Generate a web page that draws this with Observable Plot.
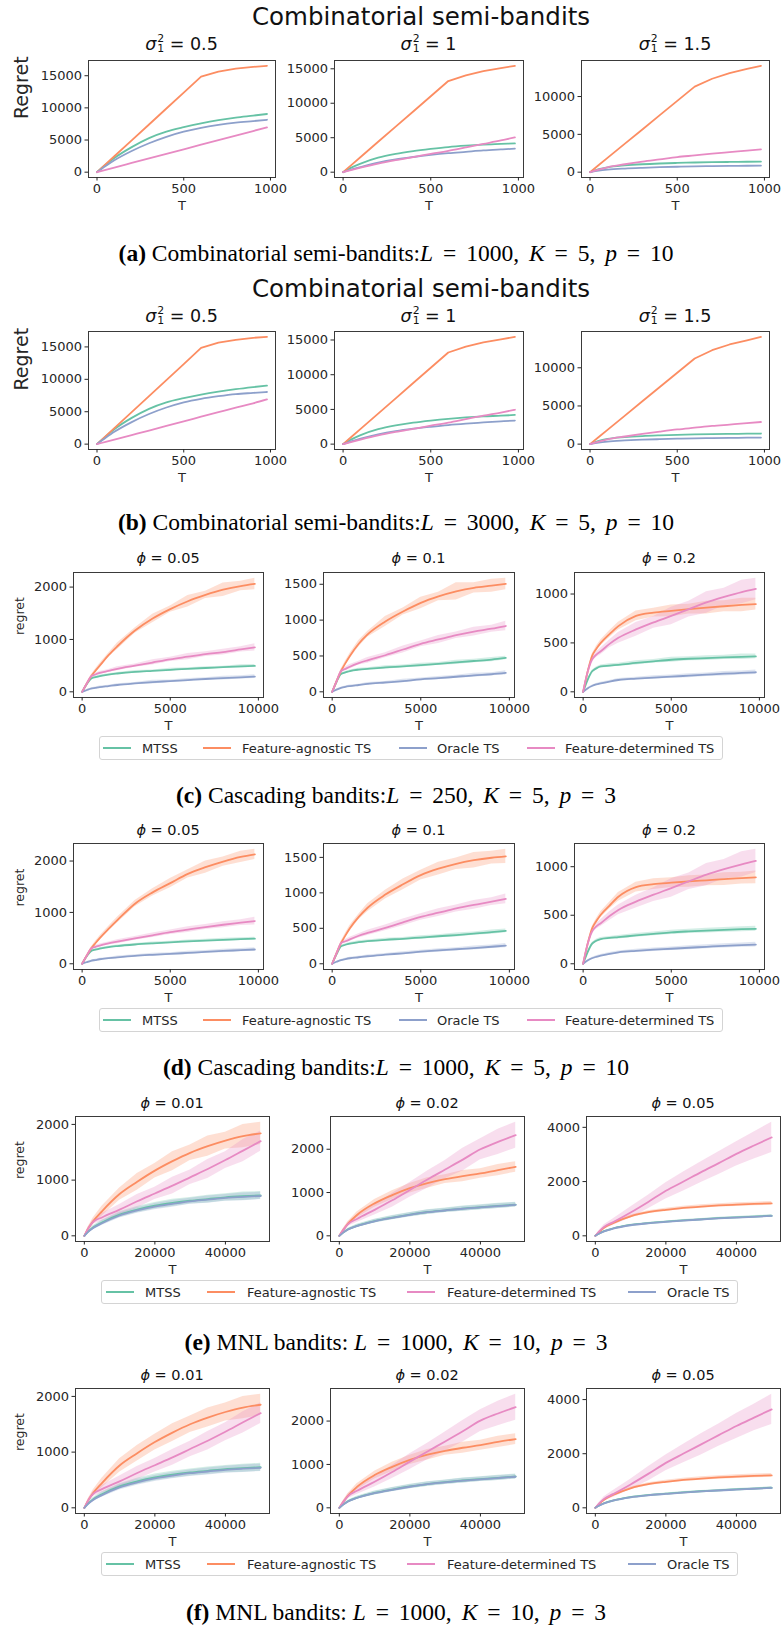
<!DOCTYPE html>
<html><head><meta charset="utf-8">
<script src="https://cdn.jsdelivr.net/npm/d3@7"></script>
<script src="https://cdn.jsdelivr.net/npm/@observablehq/plot@0.6"></script>
<style>
body{margin:0;background:#fff;}
#page{position:relative;width:782px;height:1627px;overflow:hidden;font-family:"DejaVu Sans";color:#262626;background:#fff;}
.abs{position:absolute;white-space:nowrap;}
.ctr{transform:translate(-50%,-50%);}
.cap{font-family:"Liberation Serif";font-size:23.5px;color:#000;}
.cap i{font-style:italic;}
.ss{display:inline-flex;flex-direction:column;vertical-align:middle;font-size:0.62em;line-height:0.95;margin-left:1px;position:relative;top:-1px;}
.legend{position:absolute;border:1px solid #d4d4d4;border-radius:3px;box-sizing:border-box;background:#fff;}
.lline{position:absolute;height:2px;}
.ltext{position:absolute;font-size:13px;color:#262626;white-space:nowrap;transform:translateY(-50%);}
</style></head>
<body><div id="page"></div>
<script>
// ---------------- DATA ----------------
const COL = {mtss: "#66c2a5", agn: "#fc8d62", orc: "#8da0cb", det: "#e78ac3"};
const NAMES = {mtss: "MTSS", agn: "Feature-agnostic TS", orc: "Oracle TS", det: "Feature-determined TS"};

// Combinatorial semi-bandits
const T_comb = [0, 50, 100, 200, 300, 400, 500, 600, 700, 800, 900, 980];
const xTicks_comb = [0, 500, 1000];
const yTicks_comb12 = [0, 5000, 10000, 15000];
const yTicks_comb3 = [0, 5000, 10000];

const a1_mtss = [0, 1150, 2200, 3900, 5300, 6300, 7000, 7600, 8100, 8500, 8800, 9050];
const a1_agn  = [0, 1240, 2480, 4950, 7420, 9900, 12380, 14850, 15650, 16100, 16380, 16540];
const a1_orc  = [0, 950, 1850, 3300, 4500, 5500, 6300, 6900, 7350, 7700, 7950, 8150];
const a1_det  = [0, 360, 720, 1430, 2140, 2850, 3560, 4270, 4980, 5690, 6400, 6950];

const a2_mtss = [0, 700, 1250, 2100, 2650, 3050, 3370, 3650, 3850, 4000, 4100, 4180];
const a2_agn  = [0, 1100, 2200, 4410, 6610, 8810, 11020, 13220, 14050, 14660, 15100, 15430];
const a2_orc  = [0, 400, 750, 1380, 1850, 2200, 2500, 2750, 2950, 3150, 3300, 3410];
const a2_det  = [0, 330, 650, 1250, 1750, 2200, 2650, 3100, 3600, 4100, 4600, 5050];

const a3_mtss = [0, 400, 650, 900, 1050, 1150, 1220, 1280, 1320, 1350, 1380, 1400];
const a3_agn  = [0, 940, 1890, 3770, 5650, 7540, 9430, 11310, 12350, 13100, 13650, 14060];
const a3_orc  = [0, 200, 330, 480, 580, 660, 720, 770, 800, 830, 850, 870];
const a3_det  = [0, 350, 650, 1050, 1400, 1700, 2000, 2220, 2450, 2650, 2850, 3010];

const b1_mtss = [0, 1200, 2300, 4050, 5450, 6450, 7100, 7650, 8100, 8480, 8800, 9030];
const b1_agn  = [0, 1235, 2470, 4940, 7410, 9880, 12350, 14840, 15650, 16100, 16400, 16550];
const b1_orc  = [0, 980, 1900, 3400, 4650, 5650, 6450, 7000, 7400, 7720, 7900, 8040];
const b1_det  = [0, 350, 700, 1400, 2100, 2820, 3530, 4230, 4930, 5630, 6300, 6900];

const b2_mtss = [0, 720, 1300, 2150, 2700, 3100, 3400, 3650, 3850, 4000, 4100, 4200];
const b2_agn  = [0, 1100, 2200, 4400, 6600, 8800, 11000, 13200, 14050, 14650, 15100, 15450];
const b2_orc  = [0, 420, 780, 1400, 1870, 2220, 2500, 2750, 2950, 3120, 3280, 3400];
const b2_det  = [0, 330, 650, 1250, 1750, 2200, 2650, 3100, 3600, 4100, 4550, 4950];

const b3_mtss = [0, 420, 680, 920, 1060, 1150, 1220, 1270, 1310, 1340, 1370, 1390];
const b3_agn  = [0, 930, 1870, 3740, 5610, 7480, 9350, 11220, 12300, 13050, 13600, 14050];
const b3_orc  = [0, 210, 340, 480, 580, 650, 710, 760, 790, 820, 840, 860];
const b3_det  = [0, 330, 620, 1000, 1340, 1640, 1920, 2150, 2380, 2560, 2740, 2900];

// Cascading bandits
const T_casc = [0, 250, 500, 750, 1000, 1500, 2000, 3000, 4000, 5000, 6000, 7000, 8000, 9000, 9800];
const xTicks_casc = [0, 5000, 10000];
const yTicks_casc1 = [0, 1000, 2000];
const yTicks_casc2 = [0, 500, 1000, 1500];
const yTicks_casc3 = [0, 500, 1000];

const c1_mtss = [0, 140, 250, 280, 300, 330, 350, 380, 400, 420, 440, 455, 470, 485, 495];
const c1_agn  = [0, 150, 290, 400, 500, 700, 870, 1170, 1400, 1580, 1730, 1850, 1950, 2020, 2060];
const c1_orc  = [0, 30, 60, 75, 90, 110, 130, 160, 185, 205, 225, 245, 260, 275, 290];
const c1_det  = [0, 150, 290, 330, 360, 400, 440, 500, 560, 620, 670, 720, 760, 810, 850];
const c1_mtss_sd = [0, 10, 15, 15, 20, 15, 20, 25, 15, 30, 20, 25, 20, 30, 25];
const c1_agn_sd  = [0, 15, 25, 30, 40, 35, 60, 50, 80, 60, 110, 70, 130, 90, 110];
const c1_orc_sd  = [0, 8, 12, 15, 20, 15, 25, 20, 35, 20, 30, 25, 35, 30, 35];
const c1_det_sd  = [0, 15, 20, 25, 30, 25, 40, 30, 50, 40, 60, 45, 55, 50, 70];

const c2_mtss = [0, 140, 250, 270, 290, 310, 320, 340, 355, 372, 390, 410, 430, 450, 472];
const c2_agn  = [0, 150, 290, 400, 500, 670, 800, 980, 1120, 1240, 1330, 1400, 1450, 1480, 1505];
const c2_orc  = [0, 30, 55, 70, 80, 95, 110, 130, 150, 174, 190, 210, 230, 245, 263];
const c2_det  = [0, 150, 290, 320, 350, 400, 440, 510, 590, 670, 730, 790, 840, 880, 918];
const c2_mtss_sd = [0, 10, 12, 15, 15, 20, 15, 25, 20, 25, 20, 30, 25, 30, 25];
const c2_agn_sd  = [0, 15, 25, 30, 35, 45, 40, 70, 50, 80, 60, 120, 70, 90, 80];
const c2_orc_sd  = [0, 8, 10, 12, 15, 12, 20, 15, 25, 18, 22, 20, 28, 22, 30];
const c2_det_sd  = [0, 15, 20, 25, 30, 25, 40, 35, 50, 40, 55, 45, 60, 50, 65];

const c3_mtss = [0, 120, 207, 240, 259, 268, 276, 295, 312, 328, 338, 345, 352, 358, 362];
const c3_agn  = [0, 200, 362, 440, 500, 590, 672, 776, 810, 828, 845, 860, 875, 888, 897];
const c3_orc  = [0, 35, 59, 75, 86, 105, 121, 135, 146, 155, 165, 175, 185, 193, 200];
const c3_det  = [0, 200, 328, 380, 414, 490, 552, 638, 710, 776, 845, 914, 970, 1020, 1052];
const c3_mtss_sd = [0, 10, 12, 15, 15, 18, 15, 22, 18, 25, 20, 25, 22, 28, 25];
const c3_agn_sd  = [0, 15, 20, 25, 30, 35, 40, 50, 45, 60, 50, 65, 55, 70, 60];
const c3_orc_sd  = [0, 6, 8, 10, 12, 12, 15, 14, 18, 16, 20, 18, 22, 20, 24];
const c3_det_sd  = [0, 15, 20, 30, 35, 40, 55, 70, 60, 90, 80, 110, 90, 120, 110];

const d1_mtss = [0, 140, 245, 275, 295, 325, 345, 375, 398, 418, 435, 452, 466, 480, 490];
const d1_agn  = [0, 150, 290, 400, 500, 680, 850, 1170, 1390, 1570, 1750, 1880, 1990, 2080, 2130];
const d1_orc  = [0, 30, 58, 73, 88, 108, 125, 155, 175, 192, 212, 232, 250, 265, 278];
const d1_det  = [0, 150, 290, 330, 355, 395, 430, 495, 555, 614, 665, 715, 760, 800, 832];
const d1_mtss_sd = [0, 10, 14, 16, 18, 16, 22, 20, 28, 22, 26, 24, 30, 26, 28];
const d1_agn_sd  = [0, 15, 25, 35, 40, 45, 55, 60, 70, 90, 80, 120, 90, 110, 100];
const d1_orc_sd  = [0, 8, 12, 14, 18, 16, 24, 20, 30, 24, 32, 26, 34, 30, 36];
const d1_det_sd  = [0, 15, 20, 25, 30, 28, 38, 35, 45, 42, 55, 48, 60, 55, 75];

const d2_mtss = [0, 135, 245, 268, 285, 305, 318, 338, 352, 370, 388, 405, 425, 445, 465];
const d2_agn  = [0, 150, 290, 400, 500, 660, 790, 975, 1120, 1250, 1340, 1410, 1460, 1495, 1515];
const d2_orc  = [0, 28, 52, 66, 78, 92, 106, 128, 148, 170, 188, 205, 222, 240, 255];
const d2_det  = [0, 150, 290, 318, 345, 395, 435, 505, 585, 660, 720, 780, 830, 875, 915];
const d2_mtss_sd = [0, 10, 12, 14, 16, 18, 16, 22, 20, 26, 22, 28, 24, 30, 26];
const d2_agn_sd  = [0, 15, 25, 30, 40, 40, 55, 60, 75, 70, 90, 80, 110, 90, 100];
const d2_orc_sd  = [0, 8, 10, 12, 14, 14, 18, 16, 22, 20, 24, 22, 28, 24, 30];
const d2_det_sd  = [0, 15, 20, 25, 28, 30, 38, 40, 48, 45, 55, 50, 62, 55, 70];

const d3_mtss = [0, 118, 205, 238, 255, 266, 274, 292, 308, 324, 334, 342, 350, 356, 360];
const d3_agn  = [0, 200, 360, 440, 505, 600, 690, 790, 820, 835, 848, 860, 872, 882, 890];
const d3_orc  = [0, 33, 57, 72, 84, 103, 118, 133, 145, 155, 165, 175, 185, 192, 198];
const d3_det  = [0, 200, 330, 385, 418, 492, 555, 640, 712, 780, 850, 918, 975, 1025, 1060];
const d3_mtss_sd = [0, 10, 12, 14, 16, 16, 18, 20, 20, 22, 22, 24, 24, 26, 26];
const d3_agn_sd  = [0, 15, 20, 25, 30, 35, 45, 50, 55, 50, 60, 55, 65, 60, 65];
const d3_orc_sd  = [0, 6, 8, 10, 12, 14, 14, 16, 18, 18, 20, 20, 22, 22, 24];
const d3_det_sd  = [0, 15, 22, 30, 35, 45, 50, 65, 70, 95, 85, 115, 100, 130, 120];

// MNL bandits
const T_mnl = [0, 1000, 2500, 5000, 10000, 15000, 20000, 25000, 30000, 35000, 40000, 45000, 50000];
const xTicks_mnl = [0, 20000, 40000];
const yTicks_mnl1 = [0, 1000, 2000];
const yTicks_mnl2 = [0, 1000, 2000];
const yTicks_mnl3 = [0, 2000, 4000];

const e1_mtss = [0, 70, 150, 240, 380, 470, 540, 590, 630, 660, 690, 710, 725];
const e1_agn  = [0, 120, 260, 440, 750, 970, 1170, 1340, 1490, 1610, 1710, 1790, 1840];
const e1_det  = [0, 120, 250, 330, 470, 620, 760, 900, 1050, 1200, 1360, 1530, 1700];
const e1_orc  = [0, 65, 140, 225, 365, 455, 525, 575, 620, 650, 680, 700, 715];
const e1_mtss_sd = [0, 20, 30, 40, 50, 55, 60, 65, 60, 70, 65, 75, 70];
const e1_agn_sd  = [0, 30, 60, 90, 110, 150, 130, 170, 140, 180, 150, 210, 200];
const e1_det_sd  = [0, 30, 40, 70, 90, 120, 110, 150, 130, 170, 150, 200, 180];
const e1_orc_sd  = [0, 20, 30, 40, 45, 50, 55, 60, 55, 65, 60, 70, 65];

const e2_mtss = [0, 70, 150, 230, 340, 420, 490, 550, 590, 630, 660, 690, 720];
const e2_agn  = [0, 120, 280, 480, 750, 940, 1100, 1220, 1310, 1380, 1440, 1520, 1590];
const e2_det  = [0, 120, 270, 390, 600, 820, 1060, 1300, 1530, 1760, 2000, 2170, 2325];
const e2_orc  = [0, 68, 145, 225, 335, 415, 485, 545, 585, 625, 655, 685, 715];
const e2_mtss_sd = [0, 15, 25, 35, 45, 50, 50, 55, 50, 60, 55, 60, 55];
const e2_agn_sd  = [0, 30, 50, 70, 90, 100, 110, 120, 100, 130, 110, 130, 120];
const e2_det_sd  = [0, 30, 50, 80, 120, 160, 170, 200, 210, 260, 240, 290, 300];
const e2_orc_sd  = [0, 15, 22, 30, 40, 45, 48, 50, 48, 55, 50, 55, 52];

const e3_mtss = [0, 80, 170, 270, 400, 470, 520, 570, 610, 650, 680, 710, 740];
const e3_agn  = [0, 130, 300, 470, 720, 870, 960, 1030, 1080, 1120, 1150, 1175, 1195];
const e3_det  = [0, 150, 330, 500, 860, 1250, 1660, 2000, 2350, 2680, 3020, 3330, 3630];
const e3_orc  = [0, 78, 165, 262, 390, 462, 512, 562, 602, 642, 672, 702, 732];
const e3_mtss_sd = [0, 10, 15, 20, 25, 25, 30, 30, 30, 35, 30, 35, 35];
const e3_agn_sd  = [0, 20, 30, 40, 50, 55, 60, 60, 65, 60, 70, 65, 70];
const e3_det_sd  = [0, 40, 80, 120, 200, 250, 300, 350, 380, 420, 450, 500, 560];
const e3_orc_sd  = [0, 10, 15, 18, 22, 25, 28, 28, 30, 30, 32, 32, 34];

const f1_mtss = [0, 72, 152, 245, 385, 475, 545, 595, 635, 665, 695, 712, 728];
const f1_agn  = [0, 120, 265, 445, 760, 980, 1180, 1350, 1500, 1620, 1720, 1800, 1850];
const f1_det  = [0, 120, 250, 335, 475, 625, 765, 905, 1055, 1205, 1365, 1535, 1700];
const f1_orc  = [0, 66, 142, 228, 368, 458, 528, 578, 622, 652, 682, 702, 718];
const f1_mtss_sd = [0, 20, 28, 42, 48, 58, 60, 62, 64, 68, 66, 72, 70];
const f1_agn_sd  = [0, 30, 55, 85, 120, 140, 140, 160, 150, 170, 160, 200, 190];
const f1_det_sd  = [0, 30, 45, 65, 95, 115, 120, 140, 140, 165, 160, 190, 185];
const f1_orc_sd  = [0, 18, 28, 38, 46, 52, 54, 58, 58, 62, 62, 68, 66];

const f2_mtss = [0, 70, 150, 232, 342, 422, 492, 548, 592, 630, 662, 692, 722];
const f2_agn  = [0, 120, 282, 482, 755, 945, 1105, 1225, 1315, 1385, 1445, 1520, 1585];
const f2_det  = [0, 120, 272, 392, 600, 825, 1065, 1300, 1530, 1765, 2010, 2175, 2320];
const f2_orc  = [0, 68, 146, 226, 336, 416, 486, 546, 586, 626, 656, 686, 716];
const f2_mtss_sd = [0, 15, 25, 34, 44, 48, 52, 54, 52, 58, 56, 60, 56];
const f2_agn_sd  = [0, 30, 50, 72, 88, 105, 105, 120, 105, 125, 115, 130, 125];
const f2_det_sd  = [0, 30, 55, 85, 120, 150, 180, 190, 220, 250, 250, 280, 300];
const f2_orc_sd  = [0, 15, 22, 30, 40, 44, 48, 50, 50, 54, 52, 56, 54];

const f3_mtss = [0, 80, 170, 268, 398, 470, 522, 570, 612, 648, 680, 712, 742];
const f3_agn  = [0, 130, 300, 472, 722, 872, 962, 1032, 1082, 1122, 1152, 1178, 1200];
const f3_det  = [0, 150, 330, 505, 865, 1255, 1660, 2005, 2345, 2685, 3025, 3335, 3640];
const f3_orc  = [0, 78, 166, 262, 390, 462, 514, 562, 604, 640, 672, 704, 734];
const f3_mtss_sd = [0, 10, 15, 20, 24, 26, 28, 30, 32, 32, 32, 34, 34];
const f3_agn_sd  = [0, 20, 30, 40, 48, 55, 58, 62, 62, 64, 66, 68, 70];
const f3_det_sd  = [0, 40, 80, 125, 190, 260, 290, 340, 390, 410, 460, 490, 560];
const f3_orc_sd  = [0, 10, 14, 18, 22, 24, 26, 28, 30, 30, 32, 32, 34];

// ---------------- DRAWING ----------------
const page = document.getElementById("page");

function addHTML(html, cls, left, top, extraStyle = "") {
  const d = document.createElement("div");
  d.className = "abs " + cls;
  d.style.left = left + "px";
  d.style.top = top + "px";
  if (extraStyle) d.style.cssText += extraStyle;
  d.innerHTML = html;
  page.appendChild(d);
  return d;
}

function drawPanel(p) {
  const mL = 72, mR = 10, mT = 6, mB = 46;
  const w = p.x1 - p.x0 + mL + mR, h = p.y1 - p.y0 + mT + mB;
  const rows = [];
  for (const s of p.series) {
    p.T.forEach((t, i) => {
      const sd = s.sd ? s.sd[i] : 0;
      rows.push({t, y: s.v[i], lo: s.v[i] - sd, hi: s.v[i] + sd, k: s.k});
    });
  }
  const ylo = d3.min(rows, d => d.lo), yhi = d3.max(rows, d => d.hi);
  const xlo = d3.min(p.T), xhi = d3.max(p.T);
  const py = (yhi - ylo) * 0.05, px = (xhi - xlo) * 0.05;
  const marks = [];
  for (const s of p.series) {
    if (!s.sd) continue;
    marks.push(Plot.areaY(rows.filter(r => r.k === s.k), {x: "t", y1: "lo", y2: "hi", fill: COL[s.k], fillOpacity: 0.28, curve: "linear"}));
  }
  for (const s of p.series) {
    const curve = (p.linearKey === s.k) ? "linear" : "monotone-x";
    marks.push(Plot.lineY(rows.filter(r => r.k === s.k), {x: "t", y: "y", stroke: COL[s.k], strokeWidth: 1.8, curve}));
  }
  marks.push(Plot.frame({stroke: "#3a3a3a", strokeWidth: 1}));
  marks.push(Plot.axisX({ticks: p.xTicks, tickFormat: "d", tickSize: 3.5, tickPadding: 2.5, fontSize: 13, label: null}));
  marks.push(Plot.axisY({ticks: p.yTicks, tickFormat: "d", tickSize: 3.5, tickPadding: 3, fontSize: 13, label: null}));
  marks.push(Plot.text(["T"], {frameAnchor: "bottom", dy: 32, fontSize: 13}));
  if (p.ylabel) marks.push(Plot.text([p.ylabel], {frameAnchor: "left", dx: -p.ylabelOff, rotate: -90, fontSize: p.ylabelSize}));
  const svg = Plot.plot({
    width: w, height: h, marginLeft: mL, marginRight: mR, marginTop: mT, marginBottom: mB,
    x: {domain: [xlo - px, xhi + px]},
    y: {domain: [ylo - py, yhi + py]},
    style: {fontFamily: "DejaVu Sans", fontSize: "13px", color: "#262626", background: "transparent", overflow: "visible"},
    marks
  });
  svg.style.position = "absolute";
  svg.style.left = (p.x0 - mL) + "px";
  svg.style.top = (p.y0 - mT) + "px";
  page.appendChild(svg);
}

function ser(keys, arrs, sds) {
  return keys.map((k, i) => ({k, v: arrs[i], sd: sds ? sds[i] : null}));
}

const ORDER_A = ["mtss", "agn", "orc", "det"];
const ORDER_E = ["mtss", "agn", "det", "orc"];

// Row geometry (frame boxes)
const colsComb = [[88, 275], [334, 523], [581, 769]];
const colsCasc = [[73, 263], [323, 514], [574, 764]];
const colsMnl  = [[75, 269], [330, 524], [586, 780]];

function sigmaTitle(v) {
  return `<i>σ</i><span class="ss"><span>2</span><span>1</span></span> = ${v}`;
}
function phiTitle(v) {
  return `<i>ϕ</i> = ${v}`;
}

function drawLegend(left, top, width, items) {
  const box = document.createElement("div");
  box.className = "legend";
  box.style.left = left + "px"; box.style.top = top + "px";
  box.style.width = width + "px"; box.style.height = "24px";
  page.appendChild(box);
  const cy = top + 12;
  for (const [k, lx, tx] of items) {
    const l = document.createElement("div");
    l.className = "lline";
    l.style.left = lx + "px"; l.style.top = (cy - 1) + "px"; l.style.width = "28px";
    l.style.background = COL[k];
    page.appendChild(l);
    const t = document.createElement("div");
    t.className = "ltext";
    t.style.left = tx + "px"; t.style.top = cy + "px";
    t.textContent = NAMES[k];
    page.appendChild(t);
  }
}

// ---- Rows a, b ----
const combRows = [
  {y0: 60, y1: 177, sup: 16, tt: 45, panels: [[a1_mtss, a1_agn, a1_orc, a1_det], [a2_mtss, a2_agn, a2_orc, a2_det], [a3_mtss, a3_agn, a3_orc, a3_det]]},
  {y0: 331, y1: 449, sup: 288, tt: 317, panels: [[b1_mtss, b1_agn, b1_orc, b1_det], [b2_mtss, b2_agn, b2_orc, b2_det], [b3_mtss, b3_agn, b3_orc, b3_det]]}
];
const sigmaVals = ["0.5", "1", "1.5"];
combRows.forEach(r => {
  addHTML("Combinatorial semi-bandits", "ctr", 421, r.sup, "font-size:24.5px;color:#111;");
  r.panels.forEach((arrs, j) => {
    const [x0, x1] = colsComb[j];
    drawPanel({x0, x1, y0: r.y0, y1: r.y1, T: T_comb, series: ser(ORDER_A, arrs, null), linearKey: "agn",
      xTicks: xTicks_comb, yTicks: j < 2 ? yTicks_comb12 : yTicks_comb3,
      ylabel: j === 0 ? "Regret" : null, ylabelOff: 67, ylabelSize: 19});
    addHTML(sigmaTitle(sigmaVals[j]), "ctr", (x0 + x1) / 2, r.tt, "font-size:17.5px;color:#111;");
  });
});

// ---- Rows c, d ----
const cascRows = [
  {y0: 572, y1: 697, tt: 558, leg: 736,
   panels: [[[c1_mtss, c1_agn, c1_orc, c1_det], [c1_mtss_sd, c1_agn_sd, c1_orc_sd, c1_det_sd]],
            [[c2_mtss, c2_agn, c2_orc, c2_det], [c2_mtss_sd, c2_agn_sd, c2_orc_sd, c2_det_sd]],
            [[c3_mtss, c3_agn, c3_orc, c3_det], [c3_mtss_sd, c3_agn_sd, c3_orc_sd, c3_det_sd]]]},
  {y0: 843, y1: 969, tt: 830, leg: 1008,
   panels: [[[d1_mtss, d1_agn, d1_orc, d1_det], [d1_mtss_sd, d1_agn_sd, d1_orc_sd, d1_det_sd]],
            [[d2_mtss, d2_agn, d2_orc, d2_det], [d2_mtss_sd, d2_agn_sd, d2_orc_sd, d2_det_sd]],
            [[d3_mtss, d3_agn, d3_orc, d3_det], [d3_mtss_sd, d3_agn_sd, d3_orc_sd, d3_det_sd]]]}
];
const phiCasc = ["0.05", "0.1", "0.2"];
const yTicksCasc = [yTicks_casc1, yTicks_casc2, yTicks_casc3];
cascRows.forEach(r => {
  r.panels.forEach(([arrs, sds], j) => {
    const [x0, x1] = colsCasc[j];
    drawPanel({x0, x1, y0: r.y0, y1: r.y1, T: T_casc, series: ser(ORDER_A, arrs, sds),
      xTicks: xTicks_casc, yTicks: yTicksCasc[j],
      ylabel: j === 0 ? "regret" : null, ylabelOff: 54, ylabelSize: 12.5});
    addHTML(phiTitle(phiCasc[j]), "ctr", (x0 + x1) / 2, r.tt, "font-size:14.5px;color:#111;");
  });
  drawLegend(99, r.leg, 624, [["mtss", 103, 142], ["agn", 203, 242], ["orc", 399, 437], ["det", 527, 565]]);
});

// ---- Rows e, f ----
const mnlRows = [
  {y0: 1116, y1: 1241, tt: 1103, leg: 1280,
   panels: [[[e1_mtss, e1_agn, e1_det, e1_orc], [e1_mtss_sd, e1_agn_sd, e1_det_sd, e1_orc_sd]],
            [[e2_mtss, e2_agn, e2_det, e2_orc], [e2_mtss_sd, e2_agn_sd, e2_det_sd, e2_orc_sd]],
            [[e3_mtss, e3_agn, e3_det, e3_orc], [e3_mtss_sd, e3_agn_sd, e3_det_sd, e3_orc_sd]]]},
  {y0: 1388, y1: 1513, tt: 1375, leg: 1552,
   panels: [[[f1_mtss, f1_agn, f1_det, f1_orc], [f1_mtss_sd, f1_agn_sd, f1_det_sd, f1_orc_sd]],
            [[f2_mtss, f2_agn, f2_det, f2_orc], [f2_mtss_sd, f2_agn_sd, f2_det_sd, f2_orc_sd]],
            [[f3_mtss, f3_agn, f3_det, f3_orc], [f3_mtss_sd, f3_agn_sd, f3_det_sd, f3_orc_sd]]]}
];
const phiMnl = ["0.01", "0.02", "0.05"];
const yTicksMnl = [yTicks_mnl1, yTicks_mnl2, yTicks_mnl3];
mnlRows.forEach(r => {
  r.panels.forEach(([arrs, sds], j) => {
    const [x0, x1] = colsMnl[j];
    drawPanel({x0, x1, y0: r.y0, y1: r.y1, T: T_mnl, series: ser(ORDER_E, arrs, sds),
      xTicks: xTicks_mnl, yTicks: yTicksMnl[j],
      ylabel: j === 0 ? "regret" : null, ylabelOff: 56, ylabelSize: 12.5});
    addHTML(phiTitle(phiMnl[j]), "ctr", (x0 + x1) / 2, r.tt, "font-size:14.5px;color:#111;");
  });
  drawLegend(101, r.leg, 637, [["mtss", 106, 145], ["agn", 207, 247], ["det", 407, 447], ["orc", 628, 667]]);
});

// ---- Captions ----
const captions = [
  ["(a)", "Combinatorial semi-bandits:", "<i>L</i> = 1000, <i>K</i> = 5, <i>p</i> = 10", 253],
  ["(b)", "Combinatorial semi-bandits:", "<i>L</i> = 3000, <i>K</i> = 5, <i>p</i> = 10", 522],
  ["(c)", "Cascading bandits:", "<i>L</i> = 250, <i>K</i> = 5, <i>p</i> = 3", 795],
  ["(d)", "Cascading bandits:", "<i>L</i> = 1000, <i>K</i> = 5, <i>p</i> = 10", 1067],
  ["(e)", "MNL bandits: ", "<i>L</i> = 1000, <i>K</i> = 10, <i>p</i> = 3", 1342],
  ["(f)", "MNL bandits: ", "<i>L</i> = 1000, <i>K</i> = 10, <i>p</i> = 3", 1612]
];
for (const [lab, txt, math, y] of captions) {
  addHTML(`<b>${lab}</b> ${txt}<span style="word-spacing:4px">${math}</span>`, "ctr cap", 396, y);
}
</script>
</body></html>
